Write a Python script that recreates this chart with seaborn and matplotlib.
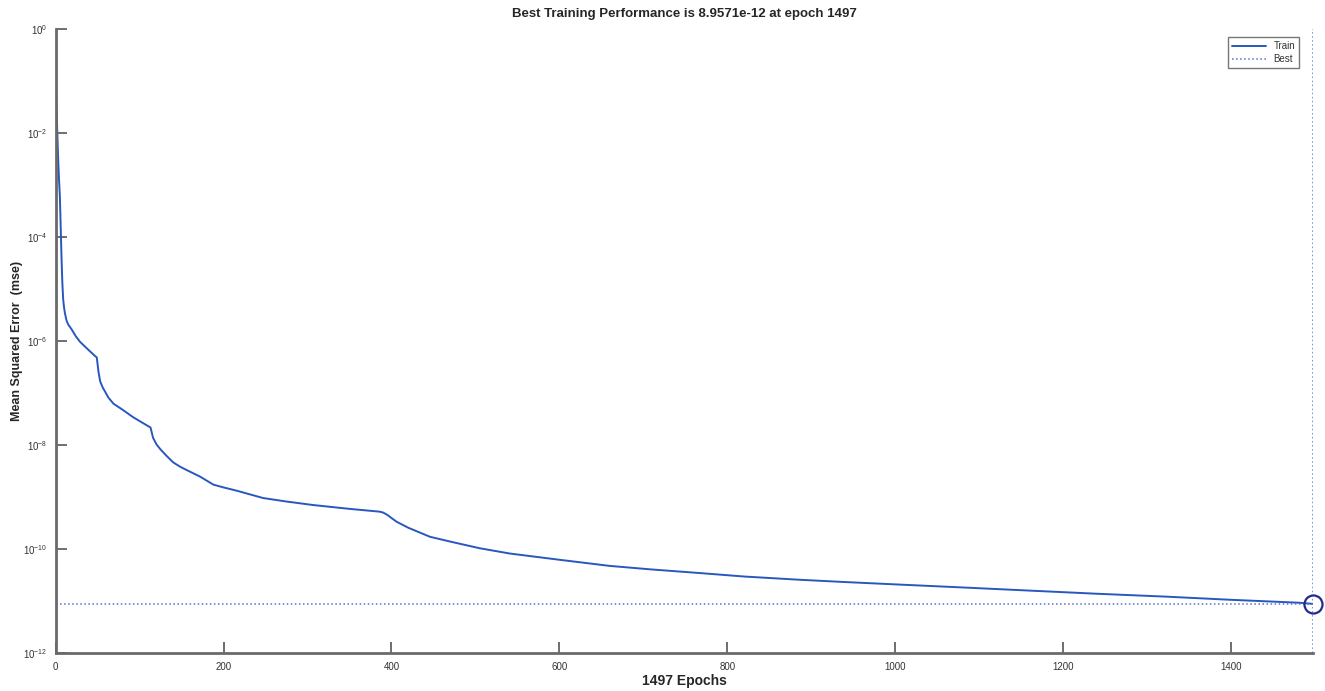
import numpy as np
import pandas as pd
import matplotlib
matplotlib.use("Agg")
import matplotlib.pyplot as plt
import seaborn as sns

# training curve (epoch, mse)
epochs = [0, 1, 2, 3, 4, 5, 6, 7, 8, 9, 10, 11, 13, 15, 19, 24, 29, 38, 47, 49,
          51, 53, 56, 60, 63, 69, 80, 92, 102, 110, 113, 116, 120, 125, 132, 140,
          148, 156, 172, 188, 200, 215, 247, 275, 307, 350, 386, 390, 395, 400,
          406, 420, 446, 475, 505, 541, 600, 660, 710, 767, 820, 886, 940, 1005,
          1080, 1163, 1240, 1323, 1400, 1481, 1497]
mse = [1.4e-1, 3.2e-2, 1.0e-2, 3.2e-3, 1.3e-3, 6.3e-4, 1.6e-4, 4.0e-5, 1.3e-5,
       6.3e-6, 4.5e-6, 3.5e-6, 2.5e-6, 2.1e-6, 1.7e-6, 1.25e-6, 9.8e-7, 7.1e-7,
       5.2e-7, 4.9e-7, 2.6e-7, 1.7e-7, 1.3e-7, 1.0e-7, 8.2e-8, 6.3e-8, 4.8e-8,
       3.5e-8, 2.8e-8, 2.35e-8, 2.2e-8, 1.4e-8, 1.05e-8, 8.3e-9, 6.3e-9, 4.7e-9,
       3.9e-9, 3.35e-9, 2.5e-9, 1.75e-9, 1.55e-9, 1.35e-9, 9.7e-10, 8.3e-10,
       7.1e-10, 6.0e-10, 5.3e-10, 5.1e-10, 4.6e-10, 4.0e-10, 3.4e-10, 2.6e-10,
       1.74e-10, 1.35e-10, 1.05e-10, 8.3e-11, 6.3e-11, 4.8e-11, 4.1e-11, 3.5e-11,
       3.0e-11, 2.6e-11, 2.35e-11, 2.1e-11, 1.85e-11, 1.6e-11, 1.4e-11, 1.23e-11,
       1.07e-11, 9.4e-12, 8.9571e-12]

best_epoch = 1497
best_perf = 8.9571e-12
y_ticks = [1e0, 1e-2, 1e-4, 1e-6, 1e-8, 1e-10, 1e-12]
x_ticks = [0, 200, 400, 600, 800, 1000, 1200, 1400]

df = pd.DataFrame({"Epoch": epochs, "MSE": mse})

sns.set_style("white")
plt.rcParams["font.family"] = ["Liberation Sans", "DejaVu Sans"]
plt.rcParams["mathtext.default"] = "regular"
plt.rcParams["axes.unicode_minus"] = False

fig = plt.figure(figsize=(13.25, 6.91), dpi=100)
ax = fig.add_axes([0.042, 0.0545, 0.9486, 0.9031])

sns.lineplot(data=df, x="Epoch", y="MSE", ax=ax, color="#2857c0", lw=1.4, label="Train")
ax.plot([0, best_epoch], [best_perf, best_perf], ls=":", color="#5b6fd6", lw=1.1, label="Best")
ax.plot([best_epoch, best_epoch], [1e-12, 1e0], ls=":", color="#5b6fd6", lw=1.1)
ax.plot([best_epoch], [best_perf], marker="o", ms=13, mfc="none", mec="#1f2c8f", mew=1.6,
        clip_on=False)

ax.set_yscale("log")
ax.set_xlim(0, best_epoch)
ax.set_ylim(1e-12, 1e0)
ax.set_yticks(y_ticks)
ax.set_xticks(x_ticks)
ax.minorticks_off()
ax.tick_params(bottom=True, left=True, direction="in", length=8, width=1.2, labelsize=7,
               colors="#555555", labelcolor="#333333", pad=6)

for s in ["top", "right"]:
    ax.spines[s].set_visible(False)
for s in ["left", "bottom"]:
    ax.spines[s].set_color("#6a6a6a")
    ax.spines[s].set_linewidth(2)

ax.set_xlabel("1497 Epochs", fontsize=10, fontweight="bold", labelpad=2)
ax.set_ylabel("Mean Squared Error  (mse)", fontsize=9, fontweight="bold", labelpad=0)
ax.set_title("Best Training Performance is 8.9571e-12 at epoch 1497", fontsize=9.5,
             fontweight="bold", pad=9)

leg = ax.legend(loc="upper right", bbox_to_anchor=(0.993, 0.995), fontsize=7,
                frameon=True, fancybox=False, handlelength=3.5, borderpad=0.4,
                labelspacing=0.3)
leg.get_frame().set_edgecolor("#555555")
leg.get_frame().set_linewidth(1)
for t in leg.get_texts():
    t.set_color("#333333")

fig.savefig("out.png", dpi=100)
